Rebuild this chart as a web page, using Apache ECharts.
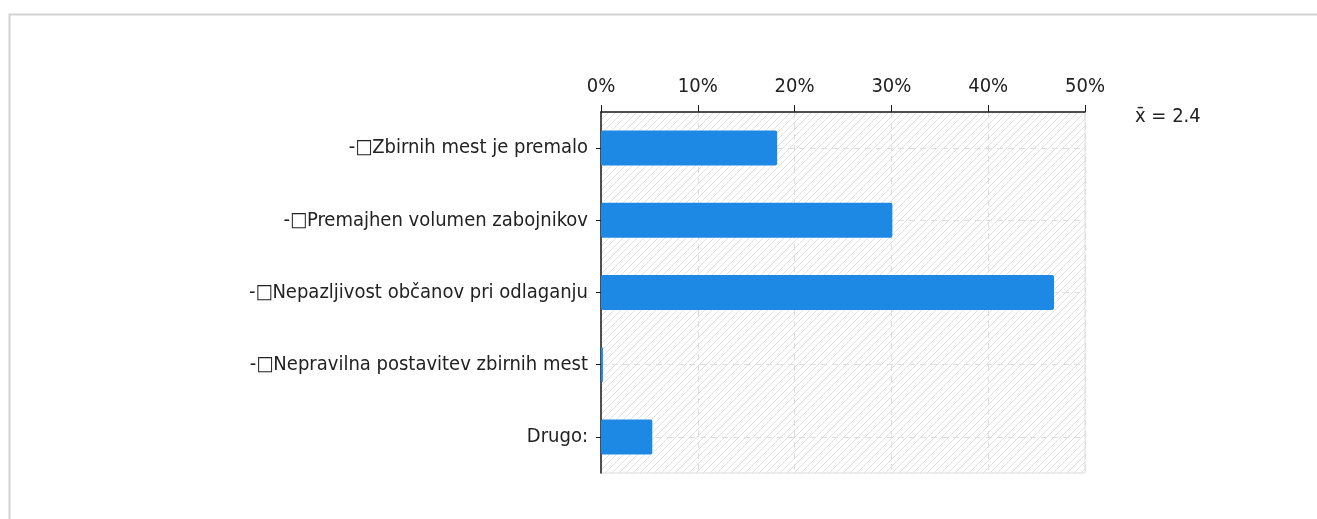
<!DOCTYPE html>
<html>
<head>
<meta charset="utf-8">
<script src="https://cdn.jsdelivr.net/npm/echarts@6/dist/echarts.min.js"></script>
<style>
  html, body { margin: 0; padding: 0; background: #fff; }
  #chart { width: 1317px; height: 519px; }
</style>
</head>
<body>
<div id="chart"></div>
<script>
// Answer options (top to bottom) and share of respondents in percent
const categories = [
  '-\u25A1Zbirnih mest je premalo',
  '-\u25A1Premajhen volumen zabojnikov',
  '-\u25A1Nepazljivost občanov pri odlaganju',
  '-\u25A1Nepravilna postavitev zbirnih mest',
  'Drugo:'
];
const shares = [18.2, 30.1, 46.8, 0.2, 5.3];
const axisTicks = { min: 0, max: 50, step: 10 };
const meanLabel = 'x\u0304 = 2.4';

const FONT = 'DejaVu Sans Condensed';

// Diagonal hatching for the plot background
function hatchPattern() {
  const c = document.createElement('canvas');
  c.width = 7; c.height = 7;
  const ctx = c.getContext('2d');
  ctx.fillStyle = '#ffffff';
  ctx.fillRect(0, 0, 7, 7);
  ctx.strokeStyle = '#e1e1e1';
  ctx.lineWidth = 1;
  ctx.beginPath();
  ctx.moveTo(-1, 8); ctx.lineTo(8, -1);
  ctx.moveTo(-1, 1); ctx.lineTo(1, -1);
  ctx.moveTo(6, 8); ctx.lineTo(8, 6);
  ctx.stroke();
  return c;
}

const chart = echarts.init(document.getElementById('chart'), null, { renderer: 'canvas' });

chart.setOption({
  animation: false,
  backgroundColor: '#ffffff',
  grid: {
    left: 601, top: 112, width: 484, height: 361,
    show: true,
    backgroundColor: { image: hatchPattern(), repeat: 'repeat' },
    borderColor: '#dcdcdc',
    borderWidth: 1
  },
  xAxis: {
    type: 'value',
    position: 'top',
    min: axisTicks.min, max: axisTicks.max, interval: axisTicks.step,
    axisLine: { show: true, lineStyle: { color: '#1a1a1a', width: 1.5 } },
    axisTick: { show: true, inside: false, length: 7, lineStyle: { color: '#1a1a1a' } },
    axisLabel: { formatter: '{value}%', color: '#222', fontFamily: FONT, fontSize: 20, margin: 15 },
    splitLine: { show: true, lineStyle: { color: '#dedede', type: [6, 5] } }
  },
  yAxis: {
    type: 'category',
    inverse: true,
    data: categories,
    axisLine: { show: true, lineStyle: { color: '#1a1a1a', width: 1.5 } },
    axisTick: { show: true, alignWithLabel: true, length: 5, lineStyle: { color: '#1a1a1a' } },
    axisLabel: { color: '#222', fontFamily: FONT, fontSize: 20, margin: 13 },
    splitLine: { show: true, alignWithLabel: true, lineStyle: { color: '#dedede', type: [6, 5] } }
  },
  series: [{
    type: 'bar',
    data: shares,
    barWidth: 35,
    itemStyle: { color: '#1e88e5', borderRadius: 2 }
  }],
  graphic: [
    {
      type: 'rect',
      left: 7, top: 12,
      shape: { width: 1400, height: 600 },
      style: { fill: 'none', stroke: '#d4d4d4', lineWidth: 2 },
      silent: true
    },
    {
      type: 'text',
      left: 1135, top: 107,
      style: { text: meanLabel, fill: '#222', font: '20px "' + FONT + '"' }
    }
  ]
});
</script>
</body>
</html>
